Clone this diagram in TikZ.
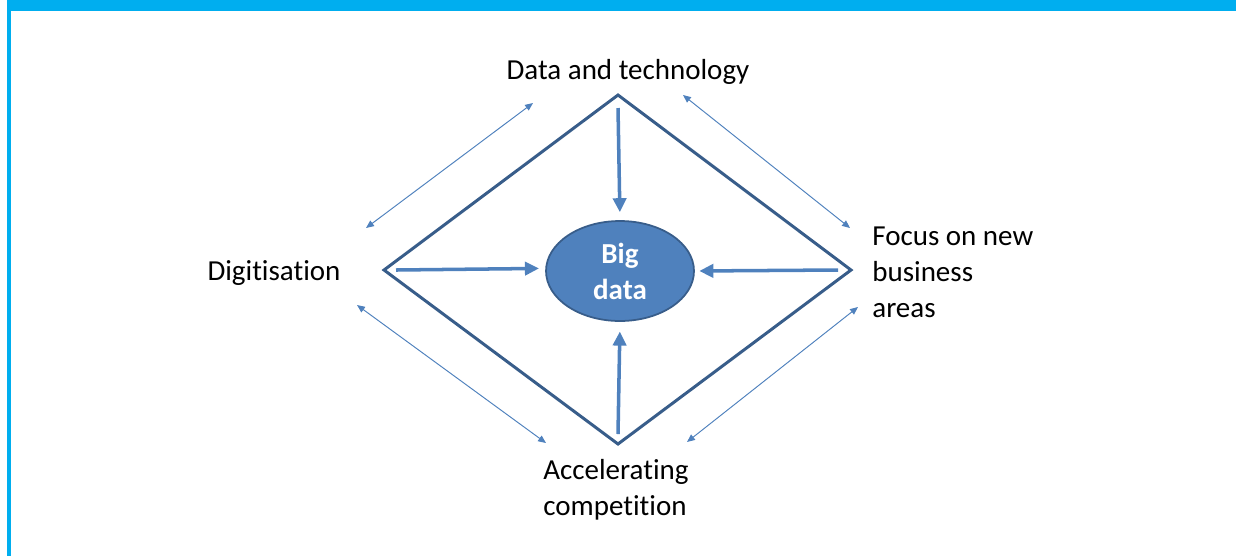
\documentclass[tikz,border=0pt]{standalone}
\usepackage{fontspec}
\setmainfont{Carlito}[Ligatures={NoCommon}]
\usetikzlibrary{arrows.meta,shapes.geometric}
\definecolor{framecyan}{HTML}{00AEEF}
\definecolor{edgeblue}{HTML}{385D8A}
\definecolor{fillblue}{HTML}{4F81BD}
\begin{document}
\begin{tikzpicture}[x=0.02cm,y=-0.02cm,
    lbl/.style={font=\fontsize{16.5}{20.5}\selectfont, align=left, inner sep=0pt},
    bigarrow/.style={fillblue, line width=2pt, -{Triangle[length=8pt,width=7.5pt]}},
    thinarrow/.style={fillblue, line width=0.55pt,
      {Triangle[length=4.5pt,width=3.8pt]}-{Triangle[length=4.5pt,width=3.8pt]}}]
  \useasboundingbox (0,0) rectangle (1236,556);
  % frame
  \fill[framecyan] (7,0) rectangle (1236,11);
  \fill[framecyan] (7,0) rectangle (11,556);
  % diamond
  \coordinate (top) at (618,95);
  \coordinate (rgt) at (851,270);
  \coordinate (bot) at (618,444);
  \coordinate (lft) at (384,270);
  \draw[edgeblue, line width=1.7pt] (top) -- (rgt) -- (bot) -- (lft) -- cycle;
  % centre
  \node[ellipse, draw=edgeblue, line width=1pt, fill=fillblue, text=white,
    minimum width=2.96cm, minimum height=2cm, inner sep=0pt, align=center,
    font=\fontsize{16.5}{20.5}\selectfont\bfseries] (big) at (620,271) {Big\\data};
  % labels
  \node[lbl] (data) at (628,72) {Data and technology};
  \node[lbl] (digit) at (274,273) {Digitisation};
  \node[lbl, anchor=west] (focus) at (872,272) {Focus on new\\business\\areas};
  \node[lbl, anchor=west] (accel) at (543,490) {Accelerating\\competition};
  % arrows into the centre
  \coordinate (t0) at (618,108);
  \coordinate (l0) at (396,270);
  \coordinate (r0) at (838,270);
  \coordinate (b0) at (618,434);
  \draw[bigarrow, shorten >=4.5pt] (t0) -- (big.north);
  \draw[bigarrow, shorten >=3.5pt] (l0) -- ([yshift=1.5pt]big.west);
  \draw[bigarrow, shorten >=2.5pt] (r0) -- (big.east);
  \draw[bigarrow, shorten >=5.5pt] (b0) -- (big.south);
  % links between the corners
  \coordinate (a1) at (533,103);
  \coordinate (a2) at (366,228);
  \coordinate (b1) at (683,95);
  \coordinate (b2) at (850,228);
  \coordinate (c1) at (357,305);
  \coordinate (c2) at (546,443);
  \coordinate (d1) at (858,307);
  \coordinate (d2) at (687,442);
  \draw[thinarrow] (a1) -- (a2);
  \draw[thinarrow] (b1) -- (b2);
  \draw[thinarrow] (c1) -- (c2);
  \draw[thinarrow] (d1) -- (d2);
\end{tikzpicture}
\end{document}
